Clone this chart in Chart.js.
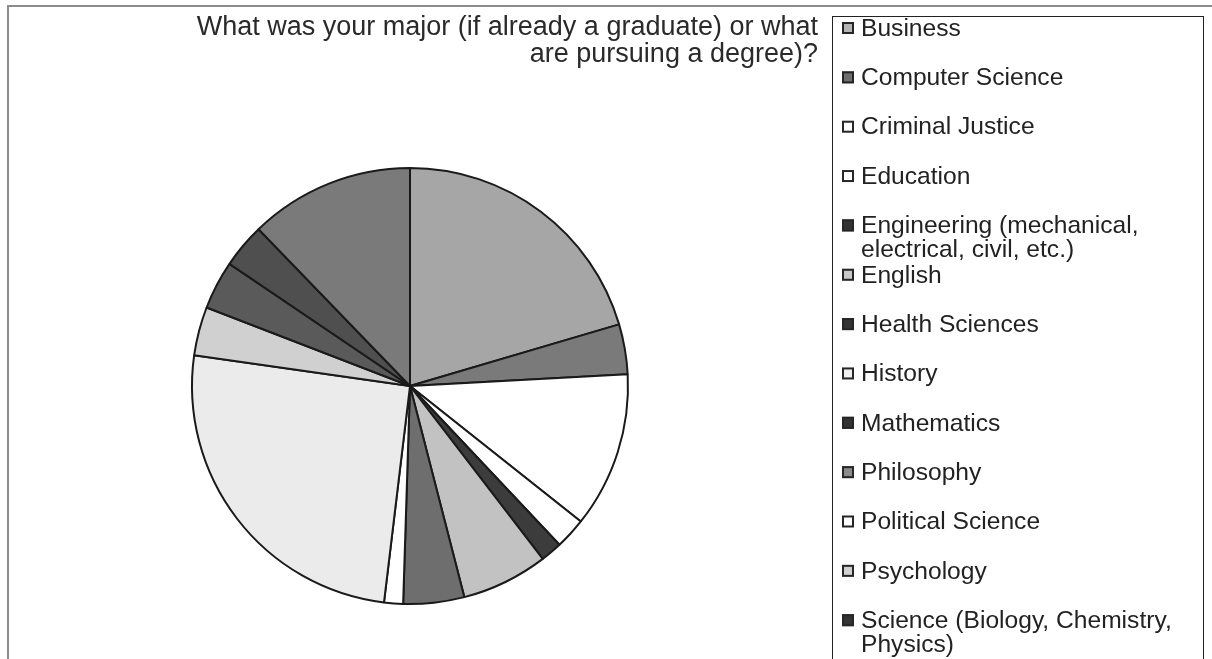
<!DOCTYPE html>
<html>
<head>
<meta charset="utf-8">
<title>Major</title>
<script src="https://cdn.jsdelivr.net/npm/chart.js@4.4.1/dist/chart.umd.min.js"></script>
<style>
  html, body { margin: 0; padding: 0; background: #fff; }
  #wrap { width: 1212px; height: 659px; }
</style>
</head>
<body>
<div id="wrap"><canvas id="major_canva" width="1212" height="659"></canvas></div>
<script>
// Cursos e percentuais de cada fatia
var majors = ['Business', 'Computer Science', 'Criminal Justice', 'Education',
  'Engineering (mechanical, electrical, civil, etc.)', 'English', 'Health Sciences',
  'History', 'Mathematics', 'Philosophy', 'Political Science', 'Psychology',
  'Science (Biology, Chemistry, Physics)'];
var shares = [20.4, 3.7, 11.5, 2.3, 1.6, 6.4, 4.5, 1.4, 25.3, 3.6, 3.6, 3.3, 12.2];

// Tons de cinza das fatias e dos quadradinhos da legenda
var sliceColors = ['#a6a6a6', '#7a7a7a', '#ffffff', '#ffffff', '#3c3c3c', '#c2c2c2',
  '#6e6e6e', '#ffffff', '#ebebeb', '#d0d0d0', '#5a5a5a', '#4f4f4f', '#7a7a7a'];
var legendColors = ['#b4b4b4', '#6e6e6e', '#ffffff', '#ffffff', '#333333', '#c8c8c8',
  '#333333', '#f0f0f0', '#333333', '#8c8c8c', '#ffffff', '#d0d0d0', '#333333'];

var titleLines = ['What was your major (if already a graduate) or what', 'are pursuing a degree)?'];

var fonte = '"Liberation Sans", Arial, sans-serif';

// Quebra o texto em linhas que cabem na largura dada
function quebraTexto(c, texto, largura) {
  var palavras = texto.split(' ');
  var linhas = [];
  var atual = '';
  for (var i = 0; i < palavras.length; i++) {
    var teste = atual ? atual + ' ' + palavras[i] : palavras[i];
    if (atual && c.measureText(teste).width > largura) {
      linhas.push(atual);
      atual = palavras[i];
    } else {
      atual = teste;
    }
  }
  linhas.push(atual);
  return linhas;
}

// Moldura, título e legenda desenhados à mão
var moldura = {
  id: 'moldura',
  beforeDraw: function(chart) {
    var c = chart.ctx;
    c.save();
    c.fillStyle = '#ffffff';
    c.fillRect(0, 0, chart.width, chart.height);
    c.strokeStyle = '#8c8c8c';
    c.lineWidth = 2;
    c.beginPath();
    c.moveTo(8, chart.height);
    c.lineTo(8, 6);
    c.lineTo(chart.width, 6);
    c.stroke();
    c.restore();
  },
  afterDraw: function(chart) {
    var c = chart.ctx;
    c.save();

    // título (a caixa da legenda cobre o final)
    c.fillStyle = '#2a2a2a';
    c.font = '27px ' + fonte;
    c.textAlign = 'right';
    c.textBaseline = 'middle';
    c.fillText(titleLines[0], 818, 28);
    c.fillText(titleLines[1], 818, 55);

    // caixa da legenda
    c.fillStyle = '#ffffff';
    c.fillRect(832, 16, 372, 660);
    c.strokeStyle = '#222222';
    c.lineWidth = 1;
    c.strokeRect(832.5, 16.5, 371, 660);

    c.font = '24.6px ' + fonte;
    c.textAlign = 'left';
    for (var i = 0; i < majors.length; i++) {
      var y = 28 + i * 49.35;
      c.fillStyle = legendColors[i];
      c.fillRect(842, y - 6, 12, 12);
      c.strokeStyle = '#262626';
      c.lineWidth = 2;
      c.strokeRect(843, y - 5, 10, 10);

      c.fillStyle = '#222222';
      var linhas = quebraTexto(c, majors[i], 330);
      for (var j = 0; j < linhas.length; j++) {
        c.fillText(linhas[j], 861, y + 1 + j * 24);
      }
    }
    c.restore();
  }
};

var ctx = document.getElementById('major_canva').getContext('2d');

var myChart = new Chart(ctx, {
  type: 'pie',
  data: {
    labels: majors,
    datasets: [{
      data: shares,
      backgroundColor: sliceColors,
      borderColor: '#1a1a1a',
      borderWidth: 2
    }]
  },
  options: {
    responsive: false,
    animation: false,
    layout: {
      padding: { left: 191, right: 583, top: 167, bottom: 54 }
    },
    plugins: {
      legend: { display: false },
      tooltip: { enabled: false }
    }
  },
  plugins: [moldura]
});
</script>
</body>
</html>
